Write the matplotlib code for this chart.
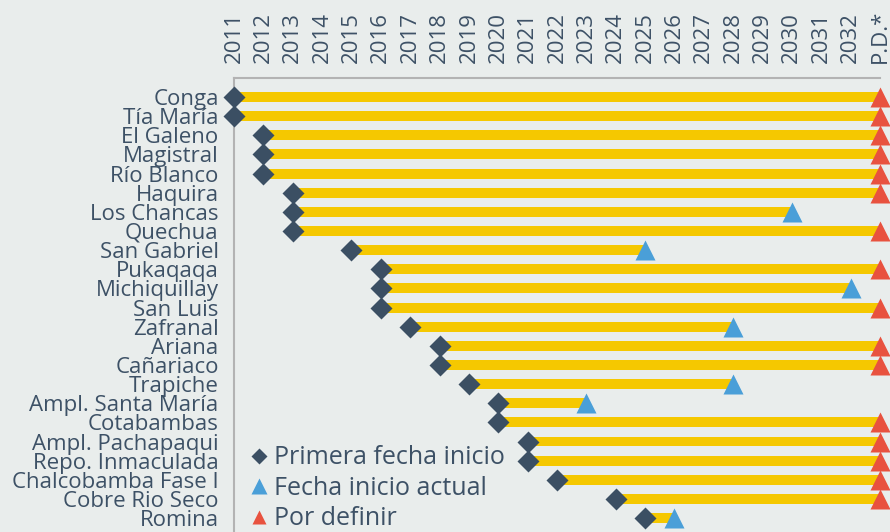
import matplotlib
matplotlib.use("Agg")
from matplotlib import pyplot as plt
from matplotlib.lines import Line2D

# datos: proyecto, primera fecha de inicio, fecha inicio actual (None = por definir)
proyectos = ["Conga", "Tía María", "El Galeno", "Magistral", "Río Blanco", "Haquira",
             "Los Chancas", "Quechua", "San Gabriel", "Pukaqaqa", "Michiquillay",
             "San Luis", "Zafranal", "Ariana", "Cañariaco", "Trapiche",
             "Ampl. Santa María", "Cotabambas", "Ampl. Pachapaqui", "Repo. Inmaculada",
             "Chalcobamba Fase I", "Cobre Rio Seco", "Romina"]
primera = [2011, 2011, 2012, 2012, 2012, 2013, 2013, 2013, 2015, 2016, 2016, 2016,
           2017, 2018, 2018, 2019, 2020, 2020, 2021, 2021, 2022, 2024, 2025]
actual = [None, None, None, None, None, None, 2030, None, 2025, None, 2032, None,
          2028, None, None, 2028, 2023, None, None, None, None, None, 2026]
anios = list(range(2011, 2033))
ticks_lbl = [str(a) for a in anios] + ["P.D.*"]

FONDO = "#e9edec"
TXT = "#3d5166"
AMARILLO = "#f5c800"
DIAMANTE = "#3b4f63"
AZUL = "#4a9fd8"
ROJO = "#e8523f"

plt.rcParams["font.family"] = ["Open Sans", "DejaVu Sans"]

fig = plt.figure(figsize=(8.9, 5.32), dpi=100, facecolor=FONDO)
ax = fig.add_axes([234 / 890, 0, 1 - 234 / 890, 1 - 78 / 532])
ax.set_facecolor(FONDO)

pd_x = len(anios)  # posicion de "P.D."
for i in range(len(proyectos)):
    x0 = primera[i] - 2011
    if actual[i] is None:
        x1 = pd_x
        col = ROJO
    else:
        x1 = actual[i] - 2011
        col = AZUL
    ax.barh(i, x1 - x0, left=x0, height=0.52, color=AMARILLO, zorder=2)
    ax.plot(x1, i, marker="^", ms=14.5, color=col, mec="none", zorder=3, clip_on=False)
    ax.plot(x0, i, marker="D", ms=11, color=DIAMANTE, mec="none", zorder=4, clip_on=False)

ax.set_xlim(0, (890 - 234) / 29.36)
ax.set_ylim((532 - 97) / 19.14, -(97 - 78) / 19.14)

ax.set_yticks(range(len(proyectos)))
ax.set_yticklabels(proyectos, fontsize=16, color=TXT)
ax.xaxis.tick_top()
ax.set_xticks(range(len(ticks_lbl)))
ax.set_xticklabels(ticks_lbl, rotation=90, fontsize=16, color=TXT)
ax.tick_params(axis="both", length=0)
ax.tick_params(axis="y", pad=11)
ax.tick_params(axis="x", pad=11)

for s in ["top", "right", "bottom"]:
    ax.spines[s].set_visible(False)
ax.spines["left"].set_color("#b3b3b3")
ax.spines["left"].set_linewidth(1.5)
ax.plot([0, pd_x], [ax.get_ylim()[1]] * 2, color="#b3b3b3", lw=1.5, clip_on=False, zorder=1)

handles = [
    Line2D([], [], marker="D", ls="none", ms=8, color=DIAMANTE, mec="none"),
    Line2D([], [], marker="^", ls="none", ms=11, color=AZUL, mec="none"),
    Line2D([], [], marker="^", ls="none", ms=10, color=ROJO, mec="none"),
]
ax.legend(handles, ["Primera fecha inicio", "Fecha inicio actual", "Por definir"],
          loc="lower left", bbox_to_anchor=(-0.012, -0.037), frameon=False,
          fontsize=18, labelcolor=TXT, handletextpad=0.0, labelspacing=0.22,
          handlelength=1.2, borderaxespad=0.3)

fig.savefig("out.png", dpi=100, facecolor=FONDO)
